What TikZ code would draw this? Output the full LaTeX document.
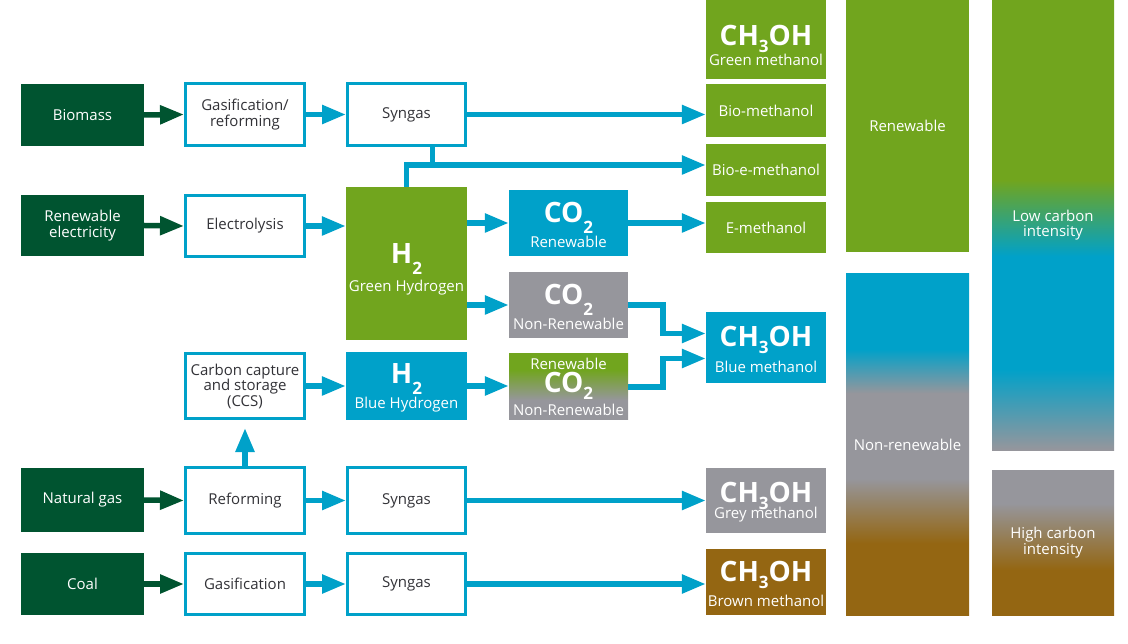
\documentclass[tikz,border=0pt]{standalone}
\usepackage{fontspec}
\setmainfont{Open Sans}
\usepackage{xcolor}
\usepackage{tikz}
\usetikzlibrary{arrows.meta,calc}

\definecolor{tsDarkGreen}{RGB}{0,84,48}
\definecolor{tsLime}{RGB}{113,165,30}
\definecolor{tsBlue}{RGB}{0,161,201}
\definecolor{tsGrey}{RGB}{150,150,156}
\definecolor{tsBrown}{RGB}{148,102,18}
\definecolor{tsText}{RGB}{50,50,55}

% vertical shadings, the path covers 25bp..75bp
\pgfdeclareverticalshading{shNonRenew}{100bp}{color(0bp)=(tsBrown); color(35.5bp)=(tsBrown); color(45bp)=(tsGrey); color(57.5bp)=(tsGrey); color(64bp)=(tsBlue); color(100bp)=(tsBlue)}
\pgfdeclareverticalshading{shLowCarbon}{100bp}{color(0bp)=(tsGrey); color(25bp)=(tsGrey); color(34bp)=(tsBlue); color(46.5bp)=(tsBlue); color(55bp)=(tsLime); color(100bp)=(tsLime)}
\pgfdeclareverticalshading{shHighCarbon}{100bp}{color(0bp)=(tsBrown); color(40.5bp)=(tsBrown); color(63.5bp)=(tsGrey); color(100bp)=(tsGrey)}
\pgfdeclareverticalshading{shMixed}{100bp}{color(0bp)=(tsGrey); color(40bp)=(tsGrey); color(63bp)=(tsLime); color(100bp)=(tsLime)}

% formula with a dropped index
\newcommand{\chemForm}[4][-11pt]{{\fontsize{28}{28}\selectfont\bfseries #2\raisebox{#1}[0pt][0pt]{\fontsize{17}{17}\selectfont #3}#4}}

\tikzstyle{tsLabel} = [
    font=\fontsize{15}{15.5}\selectfont,
    align=center,
    inner sep=0pt
]
\tikzstyle{tsSource} = [
    rectangle,
    tsLabel,
    fill=tsDarkGreen,
    text=white,
    minimum width=123pt]
\tikzstyle{tsProcess} = [
    rectangle,
    tsLabel,
    draw=tsBlue,
    line width=3pt,
    fill=white,
    text=tsText,
    minimum width=119pt]
\tikzstyle{tsFilled} = [
    rectangle,
    tsLabel,
    text=white]
\tikzstyle{tsFlow} = [
    draw=tsBlue,
    line width=5.5pt,
    -{Triangle[length=24pt,width=18pt]}]
\tikzstyle{tsFeed} = [
    draw=tsDarkGreen,
    line width=5.5pt,
    -{Triangle[length=24pt,width=18pt]}]
\tikzstyle{tsPipe} = [
    draw=tsBlue,
    line width=5.5pt]

\begin{document}
\begin{tikzpicture}[x=1pt, y=-1pt]
        \useasboundingbox (0,0) rectangle (1128,644);

        % feedstocks
        \node[tsSource, minimum height=62pt] (biomass) at (82.5,115) {Biomass};
        \node[tsSource, minimum height=61pt] (renelec) at (82.5,225.5) {Renewable\\electricity};
        \node[tsSource, minimum height=64pt] (natgas) at (82.5,500) {Natural gas};
        \node[tsSource, minimum height=62pt] (coal) at (82.5,584) {Coal};

        % processes
        \node[tsProcess, minimum height=62pt] (gasref) at (245,114.5) {Gasification/\\reforming};
        \node[tsProcess, minimum height=61pt] (electro) at (245,226) {Electrolysis};
        \node[tsProcess, minimum height=65pt] (ccs) at (245,386) {Carbon capture\\and storage\\(CCS)};
        \node[tsProcess, minimum height=66pt] (reform) at (245,500.5) {Reforming};
        \node[tsProcess, minimum height=61pt] (gasif) at (245,584) {Gasification};

        % syngas and hydrogen
        \node[tsProcess, minimum width=118pt, minimum height=62pt] (synbio) at (406.5,114.5) {Syngas};
        \node[tsFilled, fill=tsLime, minimum width=121pt, minimum height=153pt] (h2green) at (406.5,263.5) {\rule{0pt}{32pt}\chemForm{H}{2}{}\\[13pt]Green Hydrogen};
        \node[tsFilled, fill=tsBlue, minimum width=121pt, minimum height=68pt] (h2blue) at (406.5,386) {\rule{0pt}{24pt}\chemForm{H}{2}{}\\[9pt]Blue Hydrogen};
        \node[tsProcess, minimum width=118pt, minimum height=66pt] (synng) at (406.5,500.5) {Syngas};
        \node[tsProcess, minimum width=118pt, minimum height=61pt] (syncoal) at (406.5,584) {Syngas};

        % carbon dioxide
        \node[tsFilled, fill=tsBlue, minimum width=119pt, minimum height=66pt] (co2ren) at (568.5,223) {\rule{0pt}{24pt}\chemForm{CO}{2}{}\\[10pt]Renewable};
        \node[tsFilled, fill=tsGrey, minimum width=119pt, minimum height=66pt] (co2non) at (568.5,305) {\rule{0pt}{24pt}\chemForm{CO}{2}{}\\[10pt]Non-Renewable};
        \node[tsFilled, shading=shMixed, minimum width=119pt, minimum height=66pt] (co2mix) at (568.5,387) {Renewable\\[1pt]\chemForm[-7pt]{CO}{2}{}\\[8pt]Non-Renewable};

        % methanol
        \node[tsFilled, fill=tsLime, minimum width=120pt, minimum height=79pt] (meGreen) at (766,39.5) {\rule{0pt}{32pt}\chemForm[-7pt]{CH}{3}{OH}\\[5pt]Green methanol};
        \node[tsFilled, fill=tsLime, minimum width=120pt, minimum height=53pt] (meBio) at (766,110.5) {Bio-methanol};
        \node[tsFilled, fill=tsLime, minimum width=120pt, minimum height=52pt] (meBioE) at (766,170) {Bio-e-methanol};
        \node[tsFilled, fill=tsLime, minimum width=120pt, minimum height=51pt] (meE) at (766,227.5) {E-methanol};
        \node[tsFilled, fill=tsBlue, minimum width=120pt, minimum height=71pt] (meBlue) at (766,347.5) {\rule{0pt}{24pt}\chemForm[-7pt]{CH}{3}{OH}\\[11pt]Blue methanol};
        \node[tsFilled, fill=tsGrey, minimum width=120pt, minimum height=65pt] (meGrey) at (766,500.5) {\rule{0pt}{24pt}\chemForm[-7pt]{CH}{3}{OH}\\[1pt]Grey methanol};
        \node[tsFilled, fill=tsBrown, minimum width=120pt, minimum height=66pt] (meBrown) at (766,582) {\rule{0pt}{24pt}\chemForm[-7pt]{CH}{3}{OH}\\[9pt]Brown methanol};

        % classification bars
        \node[tsFilled, fill=tsLime, minimum width=123pt, minimum height=252pt] (barRen) at (907.5,126) {Renewable};
        \node[tsFilled, shading=shNonRenew, minimum width=123pt, minimum height=341pt] (barNon) at (907.5,444.5) {Non-renewable};
        \node[tsFilled, shading=shLowCarbon, minimum width=122pt, minimum height=450pt] (barLow) at (1053,225) {Low carbon\\intensity};
        \node[tsFilled, shading=shHighCarbon, minimum width=122pt, minimum height=145pt] (barHigh) at (1053,542.5) {High carbon\\intensity};

        \coordinate (bioeIn) at ([yshift=5pt]meBioE.west);

        % feed arrows
        \draw[tsFeed] (biomass.east) -- (gasref.west);
        \draw[tsFeed] (renelec.east) -- (electro.west);
        \draw[tsFeed] (natgas.east) -- (reform.west);
        \draw[tsFeed] (coal.east) -- (gasif.west);

        % flows
        \draw[tsFlow] (gasref.east) -- (synbio.west);
        \draw[tsFlow] (synbio.east) -- (synbio.east -| meBio.west);
        \draw[tsFlow] (h2green.north) |- (bioeIn);
        \draw[tsPipe] ([xshift=26pt]synbio.south) -- ([xshift=26pt]synbio.south |- bioeIn);
        \draw[tsFlow] (electro.east) -- (electro.east -| h2green.west);
        \draw[tsFlow] (h2green.east |- co2ren.west) -- (co2ren.west);
        \draw[tsFlow] (co2ren.east) -- (co2ren.east -| meE.west);
        \draw[tsFlow] (h2green.east |- co2non.west) -- (co2non.west);
        \draw[tsFlow] (co2non.east) -- ++(35,0) |- ([yshift=14pt]meBlue.west);
        \draw[tsFlow] (co2mix.east) -- ++(35,0) |- ([yshift=-11pt]meBlue.west);
        \draw[tsFlow] (ccs.east) -- (h2blue.west);
        \draw[tsFlow] (h2blue.east) -- (h2blue.east -| co2mix.west);
        \draw[tsFlow, shorten >=8pt] (reform.north) -- (ccs.south);
        \draw[tsFlow] (reform.east) -- (synng.west);
        \draw[tsFlow] (synng.east) -- (synng.east -| meGrey.west);
        \draw[tsFlow] (gasif.east) -- (syncoal.west);
        \draw[tsFlow] (syncoal.east) -- (syncoal.east -| meBrown.west);

\end{tikzpicture}
\end{document}
